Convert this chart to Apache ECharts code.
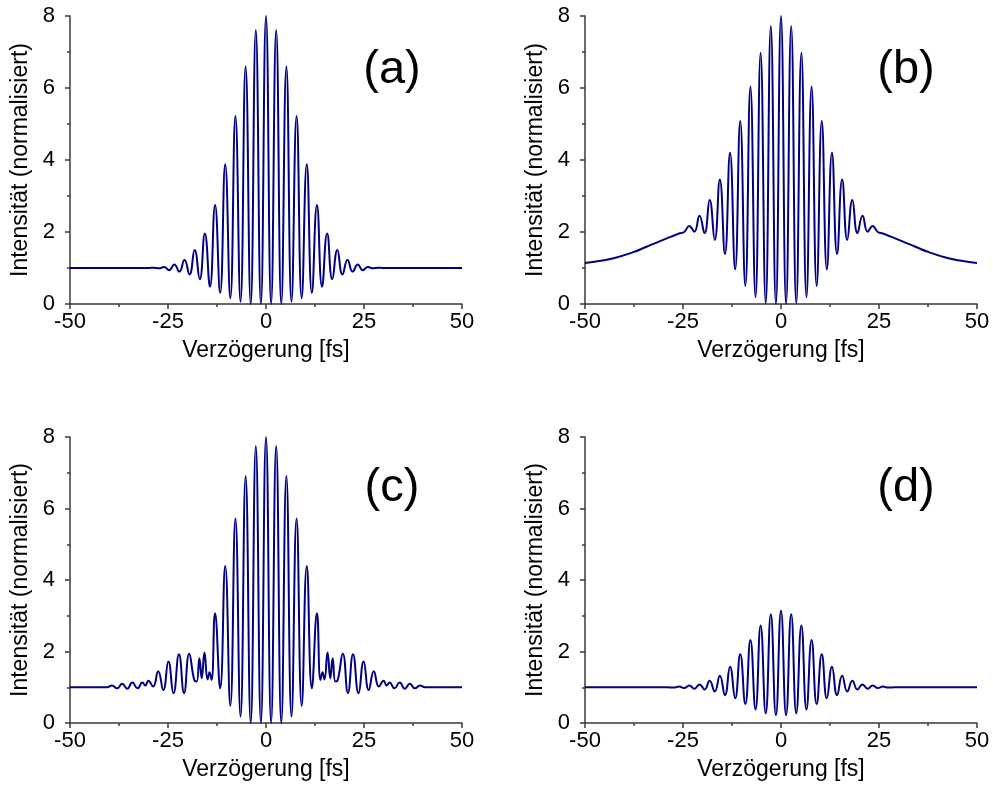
<!DOCTYPE html>
<html><head><meta charset="utf-8">
<script src="https://cdn.jsdelivr.net/npm/echarts@6/dist/echarts.min.js"></script>
<style>html,body{margin:0;padding:0;background:#fff}#c{width:993px;height:785px}</style>
</head><body><div id="c"></div>
<script>
// Panel (a)
const delayA = [-50,-30,-28.6,-27.3,-26.0,-24.7,-23.4,-22.1,-20.8,-19.5,-18.2,-16.9,-15.6,-14.3,-13.0,-11.7,-10.4,-9.1,-7.8,-6.5,-5.2,-3.9,-2.6,-1.3,0,1.3,2.6,3.9,5.2,6.5,7.8,9.1,10.4,11.7,13.0,14.3,15.6,16.9,18.2,19.5,20.8,22.1,23.4,24.7,26.0,27.3,28.6,30,50];
const intensityA = [1.0,1.0,1.01,0.99,1.03,0.94,1.1,0.9,1.22,0.82,1.5,0.69,1.96,0.48,2.75,0.31,3.88,0.16,5.22,0.06,6.6,0.0,7.61,0.0,8.0,0.0,7.61,0.0,6.6,0.06,5.22,0.16,3.88,0.31,2.75,0.48,1.96,0.69,1.5,0.82,1.22,0.9,1.1,0.94,1.03,0.99,1.01,1.0,1.0];
// Panel (b)
const delayB = [-50,-46,-42.7,-37.7,-34.3,-31,-28,-26,-24.7,-23.4,-22.1,-20.8,-19.5,-18.2,-16.9,-15.6,-14.3,-13,-11.7,-10.4,-9.1,-7.8,-6.5,-5.2,-3.9,-2.6,-1.3,0,1.3,2.6,3.9,5.2,6.5,7.8,9.1,10.4,11.7,13,14.3,15.6,16.9,18.2,19.5,20.8,22.1,23.4,24.7,26,28,31,34.3,37.7,42.7,46,50];
const intensityB = [1.14,1.2,1.27,1.44,1.59,1.74,1.87,1.96,2.0,2.17,2.01,2.45,1.97,2.89,1.78,3.46,1.39,4.2,0.96,5.08,0.5,6.04,0.19,6.98,0.02,7.72,0.0,8.0,0.0,7.72,0.02,6.98,0.19,6.04,0.5,5.08,0.96,4.2,1.39,3.46,1.78,2.89,1.97,2.45,2.01,2.17,2.0,1.96,1.87,1.74,1.59,1.44,1.27,1.2,1.14];
// Panel (c)
const delayC = [-50,-40.6,-39.3,-38,-36.7,-35.4,-34.1,-32.8,-31.5,-30.8,-30,-28.8,-27.5,-26.2,-24.9,-23.6,-22.2,-20.9,-19.6,-18.3,-17.7,-17,-16.4,-15.7,-14.9,-14.4,-13.9,-13,-11.7,-10.4,-9.1,-7.8,-6.5,-5.2,-3.9,-2.6,-1.3,0,1.3,2.6,3.9,5.2,6.5,7.8,9.1,10.4,11.7,13,13.9,14.4,14.9,15.7,16.4,17,17.7,18.3,19.6,20.9,22.2,23.6,24.9,26.2,27.5,28.8,30,30.8,31.5,32.8,34.1,35.4,36.7,38,39.3,40.6,50];
const intensityC = [1.0,1.0,1.05,0.97,1.1,0.96,1.13,0.97,1.13,1.05,1.18,1.02,1.45,0.92,1.72,0.83,1.92,0.84,1.94,1.2,1.16,1.81,1.25,1.97,1.22,1.42,1.2,3.07,0.97,4.39,0.48,5.72,0.18,6.91,0.0,7.75,0.0,8.0,0.0,7.75,0.0,6.91,0.18,5.72,0.48,4.39,0.97,3.07,1.2,1.42,1.22,1.97,1.25,1.81,1.16,1.2,1.94,0.84,1.92,0.83,1.72,0.92,1.45,1.02,1.18,1.05,1.13,0.97,1.13,0.96,1.1,0.97,1.05,1.0,1.0];
// Panel (d)
const delayD = [-50,-29,-27.3,-26,-24.7,-23.4,-22.1,-20.8,-19.5,-18.2,-16.9,-15.6,-14.3,-13,-11.7,-10.4,-9.1,-7.8,-6.5,-5.2,-3.9,-2.6,-1.3,0,1.3,2.6,3.9,5.2,6.5,7.8,9.1,10.4,11.7,13,14.3,15.6,16.9,18.2,19.5,20.8,22.1,23.4,24.7,26,27.3,29,50];
const intensityD = [1.0,1.0,0.99,1.02,0.98,1.05,0.96,1.08,0.94,1.18,0.88,1.32,0.78,1.57,0.69,1.92,0.53,2.32,0.38,2.73,0.27,3.04,0.22,3.14,0.22,3.04,0.27,2.73,0.38,2.32,0.53,1.92,0.69,1.57,0.78,1.32,0.88,1.18,0.94,1.08,0.96,1.05,0.98,1.02,0.99,1.0,1.0];

const panelLabels = ['(a)','(b)','(c)','(d)'];
const xAxisTitle = 'Verzögerung [fs]';
const yAxisTitle = 'Intensität (normalisiert)';
const xRange = [-50, 50, 25];
const yRange = [0, 8, 2];

const FONT = '"Liberation Sans", Arial, sans-serif';
const panels = [
  {x: delayA, y: intensityA},
  {x: delayB, y: intensityB},
  {x: delayC, y: intensityC},
  {x: delayD, y: intensityD}
];
const grids = [
  {left: 70, top: 16, width: 392, height: 288},
  {left: 585, top: 16, width: 392, height: 288},
  {left: 70, top: 437, width: 392, height: 286},
  {left: 585, top: 437, width: 392, height: 286}
];
const labelPos = [[392, 70], [906, 70], [392, 488], [906, 488]];

const axisLine = {show: true, onZero: false, lineStyle: {color: '#3a3a3a', width: 1.5}};
const axisTick = {show: true, inside: false, length: 5, lineStyle: {color: '#3a3a3a', width: 1.5}};
const minorTick = {show: true, splitNumber: 2, length: 3, lineStyle: {color: '#3a3a3a', width: 1.5}};

const option = {
  animation: false,
  backgroundColor: '#fff',
  grid: grids.map(g => Object.assign({containLabel: false}, g)),
  xAxis: grids.map((g, i) => ({
    type: 'value', gridIndex: i, min: xRange[0], max: xRange[1], interval: xRange[2],
    axisLine, axisTick, minorTick, splitLine: {show: false}, minorSplitLine: {show: false},
    axisLabel: {color: '#000', fontSize: 22, fontFamily: FONT, margin: 7},
    name: xAxisTitle, nameLocation: 'middle', nameGap: 35,
    nameTextStyle: {color: '#000', fontSize: 23, fontFamily: FONT}
  })),
  yAxis: grids.map((g, i) => ({
    type: 'value', gridIndex: i, min: yRange[0], max: yRange[1], interval: yRange[2],
    axisLine, axisTick, minorTick, splitLine: {show: false}, minorSplitLine: {show: false},
    axisLabel: {color: '#000', fontSize: 22, fontFamily: FONT, margin: 15},
    name: yAxisTitle, nameLocation: 'middle', nameGap: 38, nameRotate: 90,
    nameTextStyle: {color: '#000', fontSize: 23, fontFamily: FONT}
  })),
  series: panels.map((p, i) => ({
    type: 'line', xAxisIndex: i, yAxisIndex: i,
    data: p.x.map((v, k) => [v, p.y[k]]),
    showSymbol: false, smooth: 0.5,
    lineStyle: {color: '#000080', width: 2},
    clip: true
  })),
  graphic: panelLabels.map((t, i) => ({
    type: 'text', x: labelPos[i][0], y: labelPos[i][1],
    style: {text: t, fill: '#000', font: '47px ' + FONT, textAlign: 'center', textVerticalAlign: 'middle'}
  }))
};
const chart = echarts.init(document.getElementById('c'), null, {renderer: 'canvas'});
chart.setOption(option);
</script></body></html>
